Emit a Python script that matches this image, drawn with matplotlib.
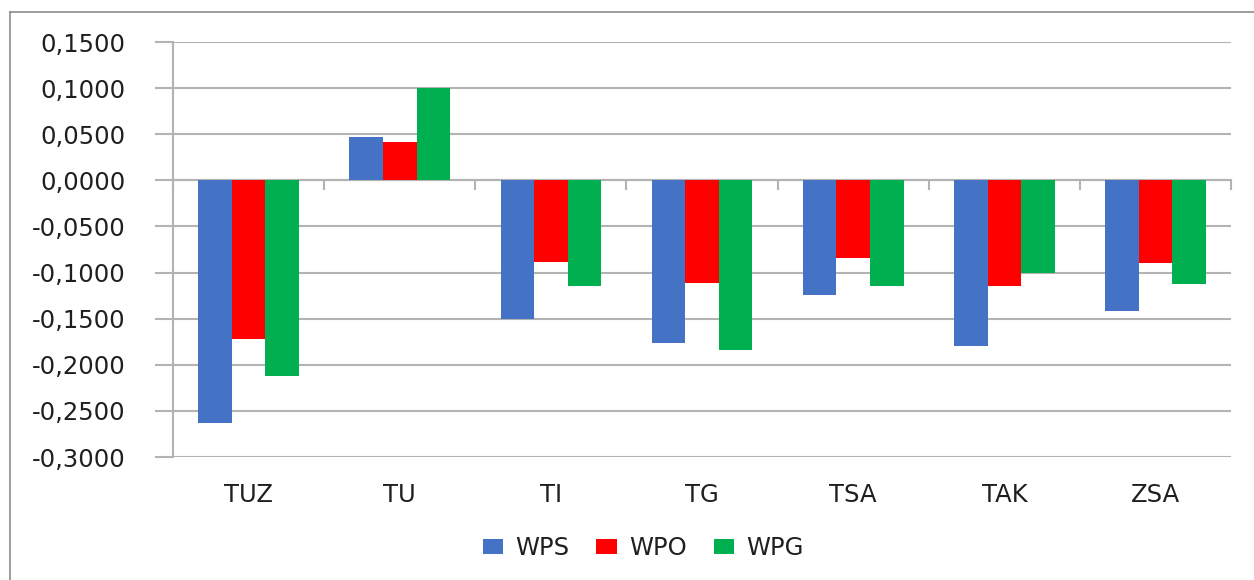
import numpy as np
import matplotlib
matplotlib.use('Agg')
import matplotlib.pyplot as plt
from matplotlib.lines import Line2D
from matplotlib.ticker import FuncFormatter, MultipleLocator

categories = ['TUZ', 'TU', 'TI', 'TG', 'TSA', 'TAK', 'ZSA']
series_names = ['WPS', 'WPO', 'WPG']
wps = [-0.263, 0.047, -0.150, -0.176, -0.124, -0.180, -0.142]
wpo = [-0.172, 0.042, -0.089, -0.111, -0.084, -0.114, -0.090]
wpg = [-0.212, 0.100, -0.115, -0.184, -0.115, -0.100, -0.112]
colors = ['#4472C4', '#FF0000', '#00B050']

GRID = '#b3b3b3'
TXT = '#1f1f1f'
plt.rcParams['font.family'] = 'DejaVu Sans'

fig = plt.figure(figsize=(12.54, 5.8), dpi=100)
ax = fig.add_axes([0.138, 0.212, 0.8437, 0.7155])

x = np.arange(len(categories))
w = 0.222
for i, (vals, name) in enumerate(zip([wps, wpo, wpg], series_names)):
    ax.bar(x + (i - 1) * w, vals, w, color=colors[i], label=name, zorder=3)

ymin, ymax = -0.3, 0.15
ax.set_ylim(ymin, ymax)
ax.set_xlim(-0.5, len(categories) - 0.5)
ax.yaxis.set_major_locator(MultipleLocator(0.05))
ax.yaxis.set_major_formatter(FuncFormatter(lambda v, p: '{0:.4f}'.format(v).replace('.', ',')))
ax.grid(True, axis='y', color=GRID, linewidth=1.5, zorder=0)
ax.tick_params(axis='y', length=13, width=1.5, color=GRID, pad=21,
               labelsize=17.5, labelcolor=TXT)

for s in ['top', 'right', 'bottom']:
    ax.spines[s].set_visible(False)
ax.spines['left'].set_color(GRID)
ax.spines['left'].set_linewidth(1.5)

# category labels at the bottom, no tick marks
ax.set_xticks(x)
ax.set_xticklabels(categories)
ax.tick_params(axis='x', length=0, pad=19, labelsize=17.5, labelcolor=TXT)

# horizontal axis at zero with ticks between categories
zero_pos = (0 - ymin) / (ymax - ymin)
sec = ax.secondary_xaxis(zero_pos)
sec.set_xticks(np.arange(len(categories) + 1) - 0.5)
sec.set_xticklabels([])
sec.tick_params(axis='x', direction='in', length=7, width=1.5, color=GRID)
for s in sec.spines.values():
    s.set_color(GRID)
    s.set_linewidth(1.5)

leg = fig.legend(loc='center', bbox_to_anchor=(0.513, 0.055), ncol=3, frameon=False,
                 fontsize=17.5, handlelength=0.85, handleheight=0.6,
                 handletextpad=0.5, columnspacing=1.1)
for t in leg.get_texts():
    t.set_color(TXT)

# chart area border (top and left visible)
fig.add_artist(Line2D([10 / 1254, 1], [1 - 12 / 580, 1 - 12 / 580],
                      transform=fig.transFigure, color='#8c8c8c', linewidth=1.2))
fig.add_artist(Line2D([10 / 1254, 10 / 1254], [0, 1 - 12 / 580],
                      transform=fig.transFigure, color='#8c8c8c', linewidth=1.2))

fig.savefig('out.png', dpi=100)
